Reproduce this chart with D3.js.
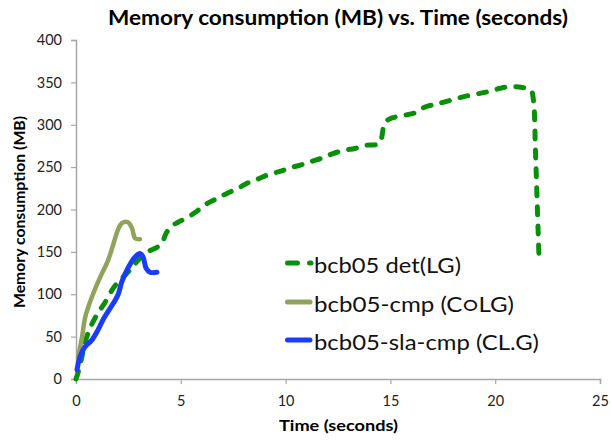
<!DOCTYPE html>
<html>
<head>
<meta charset="utf-8">
<script src="https://cdn.jsdelivr.net/npm/d3@7"></script>
<style>
  body { margin: 0; background: #fff; }
  svg { display: block; font-family: Lato, "Open Sans", sans-serif; }
</style>
</head>
<body>
<svg id="svg" width="611" height="445"></svg>
<script>
// series (time in seconds, memory in MB)
const detTime = [0, 0.15, 0.57, 1.05, 1.38, 1.72, 1.96, 2.24, 2.67, 2.96, 3.43, 3.9, 4.1, 4.3, 4.6, 4.87, 5.34, 5.82, 6.25, 6.73, 7.2, 7.73, 8.16, 8.68, 9.16, 9.73, 10.2, 10.78, 11.26, 11.78, 12.26, 12.83, 13.3, 13.9, 14.4, 14.55, 14.7, 14.84, 15.08, 15.6, 16.17, 16.65, 17.13, 17.6, 18.18, 18.65, 19.27, 19.66, 20.23, 20.7, 21.3, 21.7, 21.82, 21.92, 22.0, 22.09];
const detMem  = [0, 12, 54, 78, 90, 105, 113, 120, 131, 140, 150, 156, 160, 172, 181, 185, 191, 199, 207, 213, 219, 225, 231, 236, 241, 245, 249, 253, 257, 261, 266, 270, 272, 276, 277, 282, 300, 305, 308, 311, 314, 321, 324, 327, 331, 334, 337, 339, 343, 345, 344, 341, 330, 270, 210, 144];

const cmpTime = [0.1, 0.29, 0.43, 0.76, 1.15, 1.53, 1.77, 2.0, 2.19, 2.48, 2.67, 2.82, 3.05];
const cmpMem  = [26, 50, 72, 97, 120, 140, 158, 176, 184, 185, 178, 166, 165];

const slaTime = [0.05, 0.19, 0.43, 0.76, 1.05, 1.29, 1.77, 2.0, 2.19, 2.48, 2.82, 3.05, 3.2, 3.34, 3.53, 3.86];
const slaMem  = [11, 26, 38, 46, 58, 70, 89, 99, 115, 131, 144, 148, 144, 131, 126, 126];

const xTicks = [0, 5, 10, 15, 20, 25];
const yTicks = [0, 50, 100, 150, 200, 250, 300, 350, 400];

const seriesNames = ["bcb05 det(LG)", "bcb05-cmp (C\u25CBLG)", "bcb05-sla-cmp (CL.G)"];
const seriesColors = ["#0a8f0a", "#8fa35a", "#1a3cff"];

let svg = d3.select("#svg");

const x = d3.scaleLinear().domain([0, 25]).range([76, 600]);
const y = d3.scaleLinear().domain([0, 400]).range([379, 40]);

const axisColor = "#a6a6a6";

// the reference looks stretched sideways, so text gets a fixed width
const stretch = (sel, w) => sel.attr("textLength", w).attr("lengthAdjust", "spacingAndGlyphs");

// axes
let xAxis = svg.append("g").attr("transform", "translate(0,379)")
    .call(d3.axisBottom(x).tickValues(xTicks).tickSize(5).tickPadding(12));
let yAxis = svg.append("g").attr("transform", "translate(76,0)")
    .call(d3.axisLeft(y).tickValues(yTicks).tickSize(5).tickPadding(9));

[xAxis, yAxis].forEach(a => {
    a.select(".domain").attr("stroke", axisColor).attr("stroke-width", 1.5);
    a.selectAll(".tick line").attr("stroke", axisColor).attr("stroke-width", 1.2);
    a.selectAll(".tick text").attr("fill", "#222").style("font-size", "14.5px")
        .style("font-family", "Lato, 'Open Sans', sans-serif");
});

// lines
const line = d3.line().x(d => x(d[0])).y(d => y(d[1])).curve(d3.curveCatmullRom.alpha(0.5));
const series = [
    d3.zip(detTime, detMem),
    d3.zip(cmpTime, cmpMem),
    d3.zip(slaTime, slaMem)
];

series.forEach((s, i) => {
    let p = svg.append("path").datum(s)
        .attr("d", line)
        .attr("fill", "none")
        .attr("stroke", seriesColors[i])
        .attr("stroke-width", i == 1 ? 4.5 : 5)
        .attr("stroke-linecap", "round")
        .attr("stroke-linejoin", "round");
    if (i == 0) p.attr("stroke-dasharray", "8,11");
});

// legend
const legendY = [263, 302, 340];
const legendW = [147, 200, 225];
seriesNames.forEach((name, i) => {
    let l = svg.append("line")
        .attr("x1", 287.5).attr("x2", i == 0 ? 311 : 310)
        .attr("y1", legendY[i]).attr("y2", legendY[i])
        .attr("stroke", seriesColors[i])
        .attr("stroke-width", 5)
        .attr("stroke-linecap", "round");
    if (i == 0) l.attr("stroke-dasharray", "10,12");
    svg.append("text")
        .attr("x", 314).attr("y", legendY[i] + 10)
        .style("font-size", "20.5px")
        .attr("fill", "#111")
        .text(name)
        .call(stretch, legendW[i]);
});

// titles
svg.append("text").attr("x", 338).attr("y", 25)
    .attr("text-anchor", "middle")
    .style("font-size", "20px").style("font-weight", "bold")
    .text("Memory consumption (MB) vs. Time (seconds)")
    .call(stretch, 460);

svg.append("text").attr("x", 338.5).attr("y", 431)
    .attr("text-anchor", "middle")
    .style("font-size", "16px").style("font-weight", "bold")
    .text("Time (seconds)")
    .call(stretch, 119);

svg.append("text")
    .attr("transform", "translate(25,212) rotate(-90)")
    .attr("text-anchor", "middle")
    .style("font-size", "15.5px").style("font-weight", "bold")
    .text("Memory consumption (MB)")
    .call(stretch, 192);
</script>
</body>
</html>
